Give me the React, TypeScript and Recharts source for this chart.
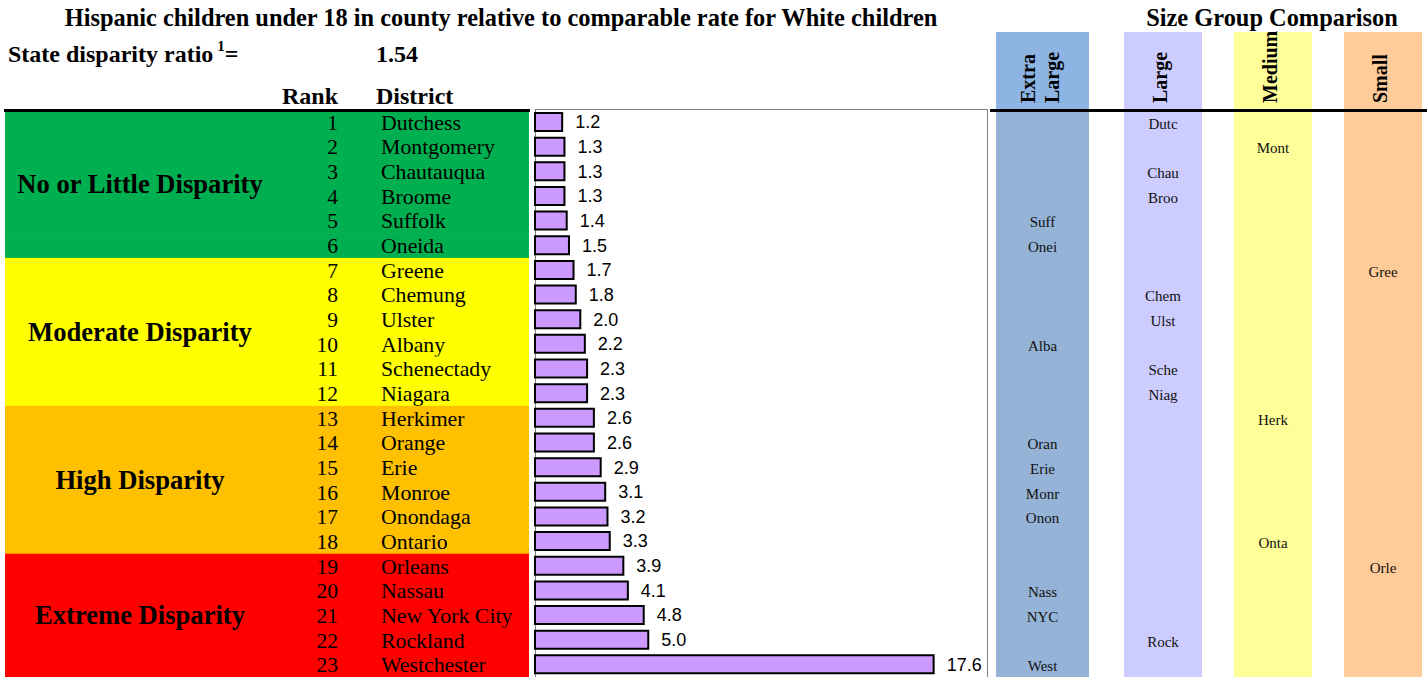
import React from "react";
import { Bar, BarChart, LabelList, XAxis, YAxis } from "recharts";

const districts = [
  "Dutchess", "Montgomery", "Chautauqua", "Broome", "Suffolk", "Oneida",
  "Greene", "Chemung", "Ulster", "Albany", "Schenectady", "Niagara",
  "Herkimer", "Orange", "Erie", "Monroe", "Onondaga", "Ontario",
  "Orleans", "Nassau", "New York City", "Rockland", "Westchester",
];
const ranks = [
  "1", "2", "3", "4", "5", "6", "7", "8", "9", "10", "11", "12",
  "13", "14", "15", "16", "17", "18", "19", "20", "21", "22", "23",
];
const ratios = [
  1.2, 1.3, 1.3, 1.3, 1.4, 1.5, 1.7, 1.8, 2.0, 2.2, 2.3, 2.3,
  2.6, 2.6, 2.9, 3.1, 3.2, 3.3, 3.9, 4.1, 4.8, 5.0, 17.6,
];
const abbrevs = [
  "Dutc", "Mont", "Chau", "Broo", "Suff", "Onei", "Gree", "Chem", "Ulst", "Alba", "Sche", "Niag",
  "Herk", "Oran", "Erie", "Monr", "Onon", "Onta", "Orle", "Nass", "NYC", "Rock", "West",
];
const sizeGroups = [
  "Large", "Medium", "Large", "Large", "Extra Large", "Extra Large", "Small", "Large", "Large",
  "Extra Large", "Large", "Large", "Medium", "Extra Large", "Extra Large", "Extra Large",
  "Extra Large", "Medium", "Small", "Extra Large", "Extra Large", "Large", "Extra Large",
];
const disparityLabels = ["No or Little Disparity", "Moderate Disparity", "High Disparity", "Extreme Disparity"];
const disparityCounts = [6, 6, 6, 5];
const disparityColors = ["#00B050", "#FFFF00", "#FFC000", "#FF0000"];

const sizeColumns = [
  { name: "Extra Large", lines: ["Extra", "Large"], x: 996, w: 93, head: "#8DB4E2", body: "#95B3D7" },
  { name: "Large", lines: ["Large"], x: 1124, w: 78, head: "#CCCCFF", body: "#CCCCFF" },
  { name: "Medium", lines: ["Medium"], x: 1234, w: 78, head: "#FFFF99", body: "#FFFF99" },
  { name: "Small", lines: ["Small"], x: 1344, w: 78, head: "#FFCC99", body: "#FFCC99" },
];

const data = districts.map((d, i) => ({ district: d, ratio: ratios[i] }));

const W = 1427;
const H = 677;
const TOP = 110;
const ROW_H = (H - TOP) / districts.length;
const SERIF = '"Liberation Serif", "Times New Roman", serif';
const SANS = '"Liberation Sans", Arial, sans-serif';

function groupOf(i: number) {
  let end = 0;
  for (let g = 0; g < disparityCounts.length; g++) {
    end += disparityCounts[g];
    if (i < end) return { g, last: i === end - 1 };
  }
  return { g: disparityCounts.length - 1, last: false };
}

function LeftTick(props: any) {
  const { y, payload } = props;
  const i = districts.indexOf(payload.value);
  const { g, last } = groupOf(i);
  const bottom = y + ROW_H / 2;
  const groupMid = bottom - (disparityCounts[g] * ROW_H) / 2;
  return (
    <g>
      <rect x={5} y={y - ROW_H / 2} width={524} height={ROW_H + 0.6} fill={disparityColors[g]} />
      <text x={338} y={y + 7.5} textAnchor="end" fontFamily={SERIF} fontSize={21.5} fill="#000">
        {ranks[i]}
      </text>
      <text x={381} y={y + 7.5} fontFamily={SERIF} fontSize={21.8} fill="#000">
        {districts[i]}
      </text>
      {last && (
        <text x={140} y={groupMid + 9} textAnchor="middle" fontFamily={SERIF} fontSize={26.6} fontWeight="bold" fill="#000">
          {disparityLabels[g]}
        </text>
      )}
    </g>
  );
}

function RightTick(props: any) {
  const { y, payload } = props;
  const i = districts.indexOf(payload.value);
  const col = sizeColumns.find((c) => c.name === sizeGroups[i])!;
  return (
    <text x={col.x + col.w / 2} y={y + 6.5} textAnchor="middle" fontFamily={SERIF} fontSize={15} fill="#111">
      {abbrevs[i]}
    </text>
  );
}

export default function App() {
  return (
    <div style={{ position: "absolute", left: 0, top: 0, width: W, height: H, background: "#fff", overflow: "hidden" }}>
      <svg width={W} height={H} style={{ position: "absolute", left: 0, top: 0 }}>
        {sizeColumns.map((c) => (
          <g key={c.name}>
            <rect x={c.x} y={32} width={c.w} height={TOP - 32} fill={c.head} />
            <rect x={c.x} y={TOP} width={c.w} height={H - TOP} fill={c.body} />
          </g>
        ))}
        <text x={501} y={26} textAnchor="middle" fontFamily={SERIF} fontSize={24.4} fontWeight="bold">
          Hispanic children under 18 in county relative to comparable rate for White children
        </text>
        <text x={1272} y={26} textAnchor="middle" fontFamily={SERIF} fontSize={24.4} fontWeight="bold">
          Size Group Comparison
        </text>
        <text x={8} y={62} fontFamily={SERIF} fontSize={24} fontWeight="bold">
          State disparity ratio
          <tspan fontSize={15} dy={-11} dx={4}>1</tspan>
          <tspan dy={11}>=</tspan>
        </text>
        <text x={376} y={62} fontFamily={SERIF} fontSize={24} fontWeight="bold">1.54</text>
        <text x={338} y={104} textAnchor="end" fontFamily={SERIF} fontSize={24} fontWeight="bold">Rank</text>
        <text x={376} y={104} fontFamily={SERIF} fontSize={24} fontWeight="bold">District</text>
        {sizeColumns.map((c) =>
          c.lines.map((line, k) => {
            const cx = c.x + c.w / 2 + (c.lines.length === 2 ? (k === 0 ? -12 : 12) : 0) - 3;
            return (
              <text
                key={c.name + line}
                x={cx}
                y={103}
                transform={`rotate(-90, ${cx}, 103)`}
                dominantBaseline="central"
                fontFamily={SERIF}
                fontSize={20}
                fontWeight="bold"
              >
                {line}
              </text>
            );
          })
        )}
      </svg>
      <div
        style={{
          position: "absolute",
          left: 534.5,
          top: 108.5,
          width: 453,
          height: 600,
          border: "1.5px solid #808080",
          boxSizing: "border-box",
        }}
      />
      <div style={{ position: "absolute", left: 0, top: 0 }}>
        <BarChart
          width={W}
          height={H}
          data={data}
          layout="vertical"
          margin={{ top: TOP, right: 0, bottom: 0, left: 0 }}
        >
          <XAxis type="number" domain={[0, 20]} hide />
          <YAxis
            yAxisId="left"
            type="category"
            dataKey="district"
            width={535}
            axisLine={false}
            tickLine={false}
            interval={0}
            tick={(p: any) => <LeftTick {...p} />}
          />
          <YAxis
            yAxisId="right"
            orientation="right"
            type="category"
            dataKey="district"
            width={439}
            axisLine={false}
            tickLine={false}
            interval={0}
            tick={(p: any) => <RightTick {...p} />}
          />
          <Bar
            yAxisId="left"
            dataKey="ratio"
            barSize={18}
            fill="#CC99FF"
            stroke="#000"
            strokeWidth={2}
            isAnimationActive={false}
          >
            <LabelList
              dataKey="ratio"
              position="right"
              offset={13}
              formatter={(v: any) => Number(v).toFixed(1)}
              fontFamily={SANS}
              fontSize={18}
              fill="#000"
            />
          </Bar>
        </BarChart>
      </div>
      <svg width={W} height={H} style={{ position: "absolute", left: 0, top: 0, pointerEvents: "none" }}>
        <line x1={4} x2={530} y1={110.5} y2={110.5} stroke="#000" strokeWidth={3} />
        <line x1={990} x2={W} y1={110.5} y2={110.5} stroke="#000" strokeWidth={3} />
      </svg>
    </div>
  );
}
